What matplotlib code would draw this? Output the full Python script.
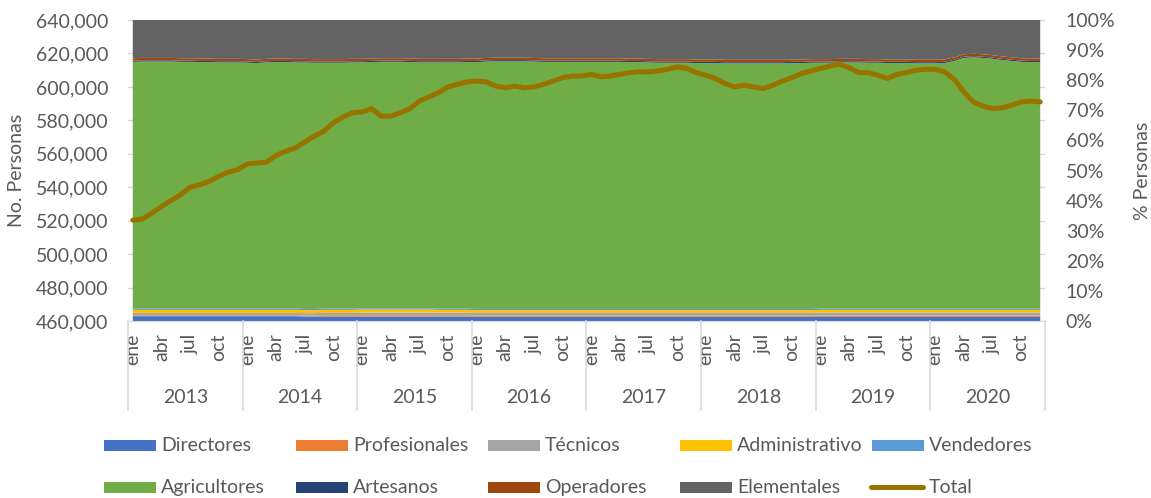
import numpy as np
import matplotlib
matplotlib.use("Agg")
import matplotlib.pyplot as plt
from matplotlib.patches import Rectangle
from matplotlib.lines import Line2D

plt.rcParams['font.family'] = ['Lato', 'DejaVu Sans']

#%% Data (monthly, ene 2013 - dic 2020)
years = ['2013', '2014', '2015', '2016', '2017', '2018', '2019', '2020']
month_labels = ['ene', 'abr', 'jul', 'oct']

# share of each occupation group (%), read from the stacked area
directores = [1.6, 1.6, 1.6, 1.6, 1.6, 1.6, 1.6, 1.6, 1.6, 1.6, 1.6, 1.6,
              1.6, 1.6, 1.6, 1.6, 1.6, 1.6, 1.5, 1.5, 1.5, 1.5, 1.5, 1.5,
              1.5, 1.5, 1.5, 1.5, 1.5, 1.5, 1.5, 1.5, 1.5, 1.5, 1.5, 1.5,
              1.4, 1.4, 1.4, 1.4, 1.4, 1.4, 1.4, 1.4, 1.4, 1.4, 1.4, 1.4,
              1.4, 1.4, 1.4, 1.4, 1.4, 1.4, 1.4, 1.4, 1.4, 1.4, 1.4, 1.4,
              1.4, 1.4, 1.4, 1.4, 1.4, 1.4, 1.4, 1.4, 1.4, 1.4, 1.4, 1.4,
              1.4, 1.4, 1.4, 1.4, 1.4, 1.4, 1.4, 1.4, 1.4, 1.4, 1.4, 1.4,
              1.4, 1.4, 1.4, 1.4, 1.4, 1.4, 1.4, 1.4, 1.4, 1.4, 1.4, 1.4]
profesionales = [0.3, 0.3, 0.3, 0.3, 0.3, 0.3, 0.3, 0.3, 0.3, 0.3, 0.3, 0.3,
                 0.3, 0.3, 0.3, 0.3, 0.3, 0.3, 0.3, 0.3, 0.4, 0.4, 0.4, 0.4,
                 0.4, 0.4, 0.4, 0.4, 0.4, 0.4, 0.4, 0.4, 0.4, 0.4, 0.4, 0.4,
                 0.4, 0.4, 0.4, 0.4, 0.4, 0.4, 0.4, 0.4, 0.4, 0.4, 0.4, 0.4,
                 0.4, 0.4, 0.4, 0.4, 0.4, 0.4, 0.4, 0.4, 0.4, 0.4, 0.4, 0.4,
                 0.4, 0.4, 0.4, 0.4, 0.4, 0.4, 0.4, 0.4, 0.4, 0.4, 0.4, 0.4,
                 0.4, 0.4, 0.4, 0.4, 0.4, 0.4, 0.4, 0.4, 0.4, 0.4, 0.4, 0.4,
                 0.4, 0.4, 0.4, 0.4, 0.4, 0.4, 0.4, 0.4, 0.4, 0.4, 0.4, 0.4]
tecnicos = [0.8, 0.8, 0.8, 0.8, 0.8, 0.8, 0.8, 0.8, 0.8, 0.8, 0.8, 0.8,
            0.8, 0.8, 0.8, 0.8, 0.8, 0.8, 0.8, 0.8, 0.8, 0.8, 0.8, 0.8,
            0.9, 0.9, 0.9, 0.9, 0.9, 0.9, 0.9, 0.9, 0.9, 0.9, 0.9, 0.9,
            0.9, 0.9, 0.9, 0.9, 0.9, 0.9, 0.9, 0.9, 0.9, 0.9, 0.9, 0.9,
            0.9, 0.9, 0.9, 0.9, 0.9, 0.9, 0.9, 0.9, 0.9, 0.9, 0.9, 0.9,
            0.9, 0.9, 0.9, 0.9, 0.9, 0.9, 0.9, 0.9, 0.9, 0.9, 0.9, 0.9,
            1.0, 1.0, 1.0, 1.0, 1.0, 1.0, 1.0, 1.0, 1.0, 1.0, 1.0, 1.0,
            1.0, 1.0, 1.0, 1.0, 1.0, 1.0, 1.0, 1.0, 1.0, 1.0, 1.0, 1.0]
administrativo = [1.0, 1.0, 1.0, 1.0, 1.0, 1.0, 1.0, 1.0, 1.0, 1.0, 1.0, 1.0,
                  1.0, 1.0, 1.0, 1.0, 1.0, 1.0, 1.0, 1.0, 1.0, 1.0, 1.0, 1.0,
                  1.0, 1.0, 1.0, 1.0, 1.0, 1.0, 1.0, 1.0, 0.9, 0.9, 0.9, 0.9,
                  0.9, 0.9, 0.9, 0.9, 0.9, 0.9, 0.9, 0.9, 0.9, 0.9, 0.9, 0.9,
                  0.9, 0.9, 0.9, 0.9, 0.9, 0.9, 0.9, 0.9, 0.9, 0.9, 0.9, 0.9,
                  0.9, 0.9, 0.9, 0.9, 0.9, 0.9, 0.9, 0.9, 0.9, 0.9, 0.9, 0.9,
                  0.9, 0.9, 0.9, 0.9, 0.9, 0.9, 0.9, 0.9, 0.9, 0.9, 0.9, 0.9,
                  0.9, 0.9, 0.9, 0.9, 0.9, 0.9, 0.9, 0.9, 0.9, 0.9, 0.9, 0.9]
vendedores = [0.4, 0.4, 0.4, 0.4, 0.4, 0.4, 0.4, 0.4, 0.4, 0.4, 0.4, 0.4,
              0.4, 0.4, 0.4, 0.4, 0.4, 0.4, 0.4, 0.4, 0.4, 0.4, 0.4, 0.4,
              0.4, 0.4, 0.4, 0.4, 0.4, 0.4, 0.4, 0.4, 0.4, 0.4, 0.4, 0.4,
              0.4, 0.4, 0.4, 0.4, 0.4, 0.4, 0.4, 0.4, 0.4, 0.4, 0.4, 0.4,
              0.4, 0.4, 0.4, 0.4, 0.4, 0.4, 0.4, 0.4, 0.4, 0.4, 0.4, 0.4,
              0.4, 0.4, 0.4, 0.4, 0.4, 0.4, 0.4, 0.4, 0.4, 0.4, 0.4, 0.4,
              0.4, 0.4, 0.4, 0.4, 0.4, 0.4, 0.4, 0.4, 0.4, 0.4, 0.4, 0.4,
              0.4, 0.4, 0.4, 0.4, 0.4, 0.4, 0.4, 0.4, 0.4, 0.4, 0.4, 0.4]
agricultores = [82.0, 82.1, 82.1, 82.1, 82.1, 82.0, 82.0, 81.9, 81.9, 81.8, 81.8, 81.8,
                81.7, 81.6, 81.8, 81.9, 81.9, 81.8, 81.8, 81.7, 81.7, 81.7, 81.7, 81.8,
                81.8, 81.9, 82.0, 82.0, 82.0, 81.9, 81.8, 81.8, 81.8, 81.8, 81.8, 81.9,
                81.9, 82.1, 82.2, 82.2, 82.2, 82.2, 82.1, 82.0, 82.0, 82.0, 82.0, 82.0,
                82.0, 82.0, 82.0, 82.0, 81.9, 81.9, 81.8, 81.7, 81.7, 81.7, 81.7, 81.6,
                81.6, 81.6, 81.5, 81.5, 81.5, 81.5, 81.5, 81.5, 81.5, 81.6, 81.6, 81.7,
                81.7, 81.7, 81.8, 81.8, 81.8, 81.7, 81.7, 81.6, 81.6, 81.6, 81.5, 81.5,
                81.5, 81.6, 82.3, 83.3, 83.5, 83.3, 83.0, 82.6, 82.3, 82.0, 81.9, 81.9]
artesanos = [0.4, 0.4, 0.4, 0.4, 0.4, 0.4, 0.4, 0.4, 0.4, 0.4, 0.4, 0.4,
             0.4, 0.4, 0.4, 0.4, 0.4, 0.4, 0.4, 0.4, 0.4, 0.4, 0.4, 0.4,
             0.4, 0.4, 0.4, 0.4, 0.4, 0.4, 0.4, 0.4, 0.4, 0.4, 0.4, 0.4,
             0.4, 0.4, 0.4, 0.4, 0.4, 0.4, 0.4, 0.4, 0.4, 0.4, 0.4, 0.4,
             0.4, 0.4, 0.4, 0.4, 0.4, 0.4, 0.4, 0.4, 0.4, 0.4, 0.4, 0.4,
             0.4, 0.4, 0.4, 0.4, 0.4, 0.4, 0.4, 0.4, 0.4, 0.4, 0.4, 0.4,
             0.4, 0.4, 0.4, 0.4, 0.4, 0.4, 0.4, 0.4, 0.4, 0.4, 0.4, 0.4,
             0.4, 0.4, 0.4, 0.4, 0.4, 0.4, 0.4, 0.4, 0.4, 0.4, 0.4, 0.4]
operadores = [0.8, 0.8, 0.8, 0.8, 0.8, 0.8, 0.8, 0.8, 0.8, 0.8, 0.8, 0.8,
              0.8, 0.8, 0.8, 0.8, 0.8, 0.8, 0.8, 0.8, 0.8, 0.8, 0.8, 0.8,
              0.8, 0.8, 0.8, 0.8, 0.8, 0.8, 0.8, 0.8, 0.8, 0.8, 0.8, 0.8,
              0.8, 0.8, 0.8, 0.8, 0.8, 0.8, 0.8, 0.8, 0.8, 0.8, 0.8, 0.8,
              0.8, 0.8, 0.8, 0.8, 0.8, 0.8, 0.8, 0.8, 0.8, 0.8, 0.8, 0.8,
              0.8, 0.8, 0.8, 0.8, 0.8, 0.8, 0.8, 0.8, 0.8, 0.8, 0.8, 0.8,
              0.8, 0.8, 0.8, 0.8, 0.8, 0.8, 0.8, 0.8, 0.8, 0.8, 0.8, 0.8,
              0.8, 0.8, 0.8, 0.8, 0.8, 0.8, 0.8, 0.8, 0.8, 0.8, 0.8, 0.8]
elementales = [12.7, 12.6, 12.6, 12.6, 12.6, 12.7, 12.7, 12.8, 12.8, 12.9, 12.9, 12.9,
               13.0, 13.1, 12.9, 12.8, 12.8, 12.9, 12.9, 13.0, 13.0, 13.0, 13.0, 12.9,
               12.9, 12.8, 12.7, 12.7, 12.7, 12.8, 12.9, 12.9, 12.9, 12.9, 12.9, 12.8,
               12.8, 12.6, 12.5, 12.5, 12.5, 12.5, 12.6, 12.7, 12.7, 12.7, 12.7, 12.7,
               12.7, 12.7, 12.7, 12.7, 12.8, 12.8, 12.9, 13.0, 13.0, 13.0, 13.0, 13.1,
               13.1, 13.1, 13.2, 13.2, 13.2, 13.2, 13.2, 13.2, 13.2, 13.1, 13.1, 13.0,
               13.0, 13.0, 12.9, 12.9, 12.9, 13.0, 13.0, 13.1, 13.1, 13.1, 13.2, 13.2,
               13.2, 13.1, 12.4, 11.4, 11.2, 11.4, 11.7, 12.1, 12.4, 12.7, 12.8, 12.8]

# total employed persons (left axis)
total = [520300, 521000, 524500, 528500, 532000, 535500, 540000, 541500, 543500, 546500, 549000, 550500,
         554000, 554500, 555000, 559000, 561500, 563500, 567000, 570500, 573500, 578500, 582000, 584500,
         585000, 587000, 582500, 582500, 584500, 587000, 591500, 594000, 596500, 600000, 601500, 603000,
         603500, 603000, 600500, 599500, 600500, 599500, 600000, 601500, 603500, 605500, 606500, 606500,
         607500, 606000, 606500, 607500, 608500, 609000, 609000, 609500, 610500, 612000, 611000, 608500,
         607000, 605000, 602000, 600000, 601000, 600000, 599000, 601000, 603500, 605500, 608000, 609500,
         611000, 612500, 613500, 611500, 608500, 608500, 607000, 605000, 607500, 608500, 610000, 610500,
         610500, 609000, 604500, 597000, 591000, 588500, 587000, 587500, 589000, 591000, 591500, 591000]

series_names = ['Directores', 'Profesionales', 'Técnicos', 'Administrativo', 'Vendedores',
                'Agricultores', 'Artesanos', 'Operadores', 'Elementales']
series = [directores, profesionales, tecnicos, administrativo, vendedores,
          agricultores, artesanos, operadores, elementales]
colors = ['#4472C4', '#ED7D31', '#A5A5A5', '#FFC000', '#5B9BD5',
          '#70AD47', '#264478', '#9E480E', '#636363']
line_color = '#997300'
text_color = '#595959'
grid_color = '#D9D9D9'
fs = 14

#%% Figure
fig = plt.figure(figsize=(11.51, 4.98), dpi=100)
ax = fig.add_axes([128 / 1151, 1 - 321 / 498, 917 / 1151, 301 / 498])
x = np.arange(len(total))

# 100% stacked area (right axis)
vals = np.array(series, dtype=float)
shares = vals / vals.sum(axis=0)
ax.stackplot(x, shares, colors=colors, linewidth=0, zorder=2)
ax.set_xlim(-0.5, len(total) - 0.5)
ax.set_ylim(0, 1)

# line on the left axis
ax2 = ax.twinx()
ax2.plot(x, total, color=line_color, lw=3.6, solid_capstyle='round', zorder=5)
left_ticks = np.arange(460000, 640001, 20000)
ax2.set_ylim(460000, 640000)
ax2.set_yticks(left_ticks)
ax2.set_yticklabels([f'{v:,.0f}' for v in left_ticks])

# gridlines of the left axis, drawn behind the area
for v in left_ticks:
    ax.axhline((v - 460000) / 180000, color=grid_color, lw=1, zorder=0)

ax.yaxis.tick_right()
ax.yaxis.set_label_position('right')
ax2.yaxis.tick_left()
ax2.yaxis.set_label_position('left')
ax.set_yticks(np.linspace(0, 1, 11))
ax.set_yticklabels([f'{int(p)}%' for p in np.linspace(0, 100, 11)])

for a in (ax, ax2):
    for s in a.spines.values():
        s.set_visible(False)
ax.spines['bottom'].set_visible(True)
ax.spines['bottom'].set_color(grid_color)

ax.tick_params(axis='y', length=0, pad=15, labelsize=fs, labelcolor=text_color)
ax2.tick_params(axis='y', length=0, pad=14, labelsize=fs, labelcolor=text_color)
ax2.set_ylabel('No. Personas', fontsize=fs, color=text_color)
ax.set_ylabel('% Personas', fontsize=fs, color=text_color)
ax2.yaxis.set_label_coords(-0.112, 0.5)
ax.yaxis.set_label_coords(1.097, 0.5)

# category axis: months + years
mpos = [12 * i + m for i in range(len(years)) for m in (0, 3, 6, 9)]
ax.set_xticks(mpos)
ax.set_xticklabels(month_labels * len(years), rotation=90)
ax.tick_params(axis='x', length=0, pad=9, labelsize=fs, labelcolor=text_color)

for i in range(len(years) + 1):
    ax.plot([12 * i - 0.5] * 2, [0, -0.296], color=grid_color, lw=1.2,
            clip_on=False, transform=ax.get_xaxis_transform())
for i, yr in enumerate(years):
    ax.text(12 * i + 5.5, -0.2525, yr, ha='center', va='center', fontsize=fs,
            color=text_color, transform=ax.get_xaxis_transform())

# legend, laid out as in the reference
W, H = 1151, 498
rows = [series_names[:5], series_names[5:] + ['Total']]
cols = colors + [line_color]
k = 0
for r, names in enumerate(rows):
    yc = [445, 487][r]
    for c, name in enumerate(names):
        x0 = 104 + 192 * c
        if name == 'Total':
            fig.add_artist(Line2D([(x0 - 1) / W, (x0 + 51) / W], [1 - yc / H] * 2,
                                  color=line_color, lw=3.6, solid_capstyle='round'))
        else:
            fig.add_artist(Rectangle((x0 / W, 1 - (yc + 5.5) / H), 52 / W, 11 / H,
                                     color=cols[k], lw=0))
        fig.text((x0 + 57) / W, 1 - yc / H, name, ha='left', va='center',
                 fontsize=fs, color=text_color)
        k += 1

fig.savefig('out.png', dpi=100)
